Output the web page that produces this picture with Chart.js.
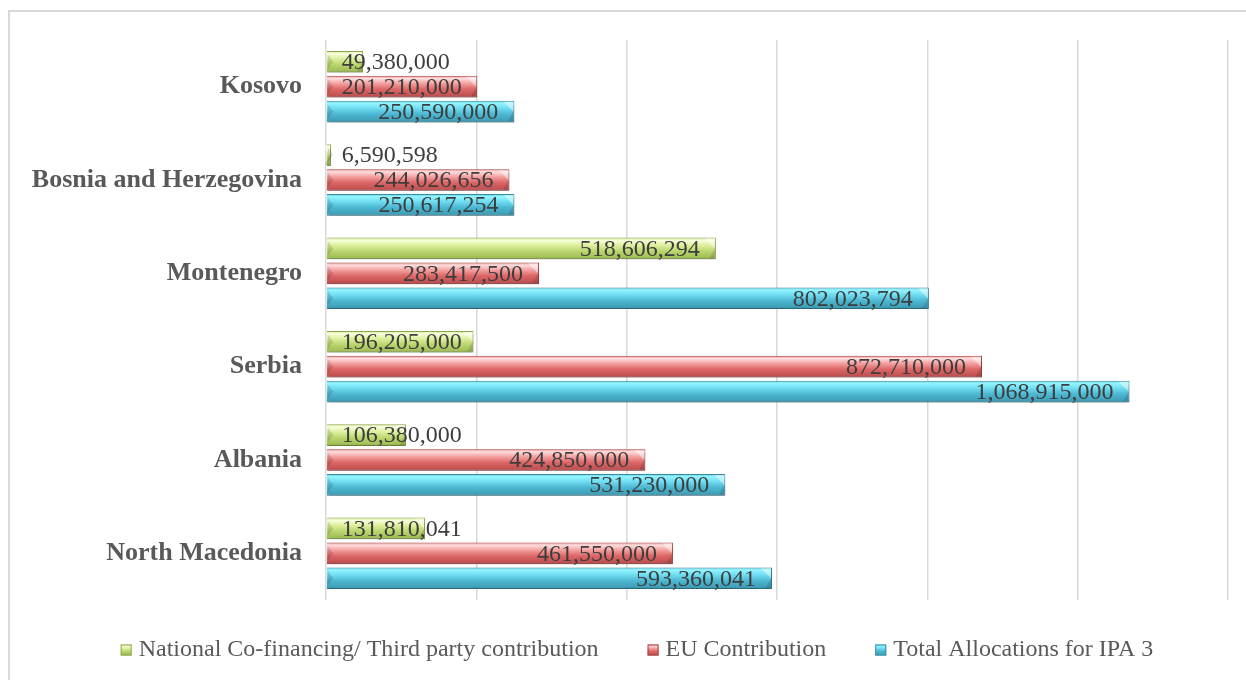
<!DOCTYPE html>
<html>
<head>
<meta charset="utf-8">
<script src="https://cdn.jsdelivr.net/npm/chart.js@4.4.0/dist/chart.umd.min.js"></script>
<style>
html,body{margin:0;padding:0;background:#ffffff;}
#wrap{width:1246px;height:680px;position:relative;}
</style>
</head>
<body>
<div id="wrap"><canvas id="c"></canvas></div>
<script>
// ---- data ----
const categories = ['Kosovo', 'Bosnia and Herzegovina', 'Montenegro', 'Serbia', 'Albania', 'North Macedonia'];
const seriesNames = ['National Co-financing/ Third party contribution', 'EU Contribution', 'Total Allocations for IPA 3'];
const nationalCofinancing = [49380000, 6590598, 518606294, 196205000, 106380000, 131810041];
const euContribution = [201210000, 244026656, 283417500, 872710000, 424850000, 461550000];
const totalAllocations = [250590000, 250617254, 802023794, 1068915000, 531230000, 593360041];
const axisMin = 0, axisMax = 1200000000, axisStep = 200000000;

// ---- styles ----
const FONT = '"Liberation Serif", "Times New Roman", Times, serif';
const CAT_PCT = 0.8, BAR_PCT = 0.87;
const seriesStyles = [
  { border: '#8fa94c', stops: [[0, '#c9df83'], [0.12, '#f7ffdc'], [0.35, '#def09f'], [0.62, '#bcd670'], [0.9, '#a2bf58'], [1, '#8ba446']] },
  { border: '#a84545', stops: [[0, '#e98686'], [0.12, '#ffdede'], [0.35, '#f3a0a0'], [0.62, '#dd6666'], [0.9, '#c25252'], [1, '#a54343']] },
  { border: '#3a8da3', stops: [[0, '#5ccbe2'], [0.12, '#93f5ff'], [0.35, '#6fdcf1'], [0.62, '#4db7d1'], [0.9, '#40a0b9'], [1, '#36879d']] }
];

function barGradient(dsIndex) {
  const stops = seriesStyles[dsIndex].stops;
  return function (ctx) {
    const chart = ctx.chart;
    const ys = chart.scales && chart.scales.y;
    if (ctx.type !== 'data' || !ys || !chart.chartArea) return stops[3][1];
    const catH = (ys.bottom - ys.top) / categories.length;
    const cy = ys.getPixelForValue(ctx.dataIndex);
    const groupH = catH * CAT_PCT;
    const slot = groupH / 3;
    const barH = slot * BAR_PCT;
    const c = cy - groupH / 2 + slot * (dsIndex + 0.5);
    const g = chart.ctx.createLinearGradient(0, c - barH / 2, 0, c + barH / 2);
    stops.forEach(s => g.addColorStop(s[0], s[1]));
    return g;
  };
}

const decor = {
  id: 'decor',
  beforeDraw(chart) {
    const c = chart.ctx;
    c.save();
    c.strokeStyle = '#d9d9d9';
    c.lineWidth = 2;
    c.beginPath();
    c.moveTo(9, chart.height + 5);
    c.lineTo(9, 11);
    c.lineTo(chart.width + 5, 11);
    c.stroke();
    c.restore();
  },
  beforeDatasetsDraw(chart) {
    const c = chart.ctx;
    c.save();
    c.shadowColor = 'rgba(0,0,0,0.28)';
    c.shadowBlur = 4;
    c.shadowOffsetX = 1;
    c.shadowOffsetY = 3;
  },
  afterDatasetsDraw(chart) {
    const c = chart.ctx;
    c.restore();
    c.save();
    chart.data.datasets.forEach((ds, di) => {
      const meta = chart.getDatasetMeta(di);
      meta.data.forEach((el, i) => {
        const h = el.height, top = el.y - h / 2, x = el.x, base = el.base;
        if (x - base > 4) {
          c.fillStyle = 'rgba(255,255,255,0.45)';
          c.beginPath();
          c.moveTo(x - h * 0.5, top + 1);
          c.lineTo(x - 1, top + 1);
          c.lineTo(x - 1, top + h * 0.5);
          c.closePath();
          c.fill();
          c.fillStyle = 'rgba(0,0,0,0.12)';
          c.beginPath();
          c.moveTo(x - 1, top + h * 0.5);
          c.lineTo(x - 1, top + h - 1);
          c.lineTo(x - h * 0.3, top + h - 1);
          c.closePath();
          c.fill();
          c.fillStyle = 'rgba(0,0,0,0.12)';
          c.beginPath();
          c.moveTo(base + 1, top + h * 0.15);
          c.lineTo(base + h * 0.3, top + h * 0.5);
          c.lineTo(base + 1, top + h * 0.85);
          c.closePath();
          c.fill();
        }
      });
    });
    // value labels
    c.font = '24px ' + FONT;
    c.fillStyle = '#3d3d3d';
    c.textAlign = 'left';
    c.textBaseline = 'middle';
    chart.data.datasets.forEach((ds, di) => {
      const meta = chart.getDatasetMeta(di);
      meta.data.forEach((el, i) => {
        const txt = ds.data[i].toLocaleString('en-US');
        const w = c.measureText(txt).width;
        const tx = Math.max(el.x - 16 - w, el.base + 15);
        c.fillText(txt, tx, el.y + 1);
      });
    });
    c.restore();
  },
  afterDraw(chart) {
    const c = chart.ctx;
    c.save();
    c.font = '24px ' + FONT;
    c.textAlign = 'left';
    c.textBaseline = 'middle';
    const markerSize = 11, markerToText = 18, itemGap = 49, cx = 637, cy = 650;
    const widths = chart.data.datasets.map(ds => c.measureText(ds.label).width);
    const total = widths.reduce((a, w) => a + markerToText + w, 0) + itemGap * (widths.length - 1);
    let x = cx - total / 2;
    chart.data.datasets.forEach((ds, di) => {
      const st = seriesStyles[di];
      const my = cy - markerSize / 2;
      const g = c.createLinearGradient(0, my, 0, my + markerSize);
      st.stops.forEach(s => g.addColorStop(s[0], s[1]));
      c.fillStyle = g;
      c.fillRect(x, my, markerSize, markerSize);
      c.strokeStyle = st.border;
      c.lineWidth = 1;
      c.strokeRect(x + 0.5, my + 0.5, markerSize - 1, markerSize - 1);
      c.fillStyle = '#595959';
      c.fillText(ds.label, x + markerToText, cy);
      x += markerToText + widths[di] + itemGap;
    });
    c.restore();
  }
};

const seriesData = [nationalCofinancing, euContribution, totalAllocations];

new Chart(document.getElementById('c'), {
  type: 'bar',
  data: {
    labels: categories,
    datasets: seriesData.map((d, i) => ({
      label: seriesNames[i],
      data: d,
      backgroundColor: barGradient(i),
      borderColor: seriesStyles[i].border,
      borderWidth: 1,
      categoryPercentage: CAT_PCT,
      barPercentage: BAR_PCT
    }))
  },
  options: {
    indexAxis: 'y',
    responsive: true,
    maintainAspectRatio: false,
    animation: false,
    events: [],
    layout: { padding: { top: 40, bottom: 80, left: 0, right: 18 } },
    plugins: { legend: { display: false }, tooltip: { enabled: false } },
    scales: {
      x: {
        min: axisMin,
        max: axisMax,
        ticks: { display: false, stepSize: axisStep },
        grid: { color: '#d9d9d9', lineWidth: 1.5, drawTicks: false },
        border: { display: false },
        afterFit(scale) { scale.height = 0; }
      },
      y: {
        grid: { display: false },
        border: { display: false },
        ticks: {
          padding: 16,
          color: '#595959',
          font: { family: FONT, size: 26, weight: 'bold' }
        },
        afterFit(scale) { scale.width = 326; }
      }
    }
  },
  plugins: [decor]
});
</script>
</body>
</html>
